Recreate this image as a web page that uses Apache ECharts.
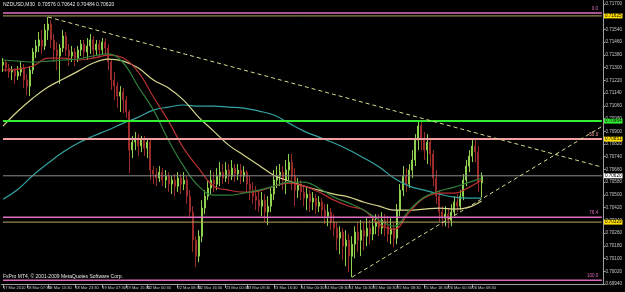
<!DOCTYPE html>
<html><head><meta charset="utf-8">
<script src="https://cdn.jsdelivr.net/npm/echarts@6/dist/echarts.min.js"></script>
<style>html,body{margin:0;padding:0;background:#000;}#c{width:625px;height:292px;}</style>
</head><body><div id="c"></div><script>
// NZDUSD M30 OHLC
const opens=[0.71316,0.71335,0.71297,0.71272,0.71285,0.71247,0.71272,0.71297,0.71222,0.71184,
0.71285,0.71398,0.71436,0.71474,0.71436,0.71536,0.71574,0.71474,0.71411,0.71373,
0.71423,0.71499,0.71411,0.71373,0.71398,0.71360,0.71411,0.71448,0.71398,0.71436,
0.71474,0.71411,0.71448,0.71411,0.71461,0.71423,0.71335,0.71222,0.71184,0.71121,
0.71147,0.71096,0.71021,0.70782,0.70832,0.70857,0.70807,0.70845,0.70794,0.70832,
0.70656,0.70631,0.70606,0.70643,0.70593,0.70618,0.70568,0.70593,0.70555,0.70606,
0.70568,0.70593,0.70492,0.70392,0.70215,0.70115,0.70240,0.70417,0.70492,0.70543,
0.70593,0.70568,0.70618,0.70643,0.70606,0.70656,0.70618,0.70668,0.70631,0.70656,
0.70618,0.70643,0.70568,0.70530,0.70492,0.70467,0.70429,0.70467,0.70392,0.70429,
0.70505,0.70593,0.70618,0.70643,0.70593,0.70656,0.70706,0.70618,0.70530,0.70568,
0.70518,0.70480,0.70505,0.70455,0.70480,0.70429,0.70455,0.70404,0.70366,0.70392,
0.70329,0.70291,0.70228,0.70266,0.70178,0.70215,0.70115,0.70190,0.70266,0.70215,
0.70278,0.70240,0.70291,0.70253,0.70303,0.70329,0.70291,0.70341,0.70303,0.70253,
0.70291,0.70228,0.70404,0.70530,0.70618,0.70568,0.70656,0.70719,0.70845,0.70933,
0.70845,0.70782,0.70832,0.70757,0.70606,0.70492,0.70392,0.70354,0.70379,0.70341,
0.70392,0.70455,0.70429,0.70492,0.70593,0.70681,0.70744,0.70807,0.70769,0.70576];
const closes=[0.71335,0.71297,0.71272,0.71285,0.71247,0.71272,0.71297,0.71222,0.71184,0.71285,
0.71398,0.71436,0.71474,0.71436,0.71536,0.71574,0.71474,0.71411,0.71373,0.71423,
0.71499,0.71411,0.71373,0.71398,0.71360,0.71411,0.71448,0.71398,0.71436,0.71474,
0.71411,0.71448,0.71411,0.71461,0.71423,0.71335,0.71222,0.71184,0.71121,0.71147,
0.71096,0.71021,0.70782,0.70832,0.70857,0.70807,0.70845,0.70794,0.70832,0.70656,
0.70631,0.70606,0.70643,0.70593,0.70618,0.70568,0.70593,0.70555,0.70606,0.70568,
0.70593,0.70492,0.70392,0.70215,0.70115,0.70240,0.70417,0.70492,0.70543,0.70593,
0.70568,0.70618,0.70643,0.70606,0.70656,0.70618,0.70668,0.70631,0.70656,0.70618,
0.70643,0.70568,0.70530,0.70492,0.70467,0.70429,0.70467,0.70392,0.70429,0.70505,
0.70593,0.70618,0.70643,0.70593,0.70656,0.70706,0.70618,0.70530,0.70568,0.70518,
0.70480,0.70505,0.70455,0.70480,0.70429,0.70455,0.70404,0.70366,0.70392,0.70329,
0.70291,0.70228,0.70266,0.70178,0.70215,0.70115,0.70190,0.70266,0.70215,0.70278,
0.70240,0.70291,0.70253,0.70303,0.70329,0.70291,0.70341,0.70303,0.70253,0.70291,
0.70228,0.70404,0.70530,0.70618,0.70568,0.70656,0.70719,0.70845,0.70933,0.70845,
0.70782,0.70832,0.70757,0.70606,0.70492,0.70392,0.70354,0.70379,0.70341,0.70392,
0.70455,0.70429,0.70492,0.70593,0.70681,0.70744,0.70807,0.70769,0.70576,0.70620];
const highs=[0.71360,0.71348,0.71323,0.71310,0.71297,0.71310,0.71335,0.71323,0.71260,0.71310,
0.71423,0.71474,0.71524,0.71536,0.71574,0.71618,0.71599,0.71511,0.71461,0.71448,
0.71536,0.71524,0.71448,0.71436,0.71423,0.71436,0.71474,0.71474,0.71486,0.71511,
0.71499,0.71474,0.71474,0.71486,0.71486,0.71448,0.71348,0.71272,0.71209,0.71184,
0.71172,0.71121,0.71033,0.70870,0.70895,0.70882,0.70870,0.70870,0.70857,0.70845,
0.70681,0.70668,0.70681,0.70668,0.70656,0.70643,0.70618,0.70631,0.70643,0.70631,
0.70643,0.70618,0.70530,0.70429,0.70240,0.70278,0.70467,0.70530,0.70593,0.70656,
0.70643,0.70668,0.70706,0.70694,0.70706,0.70694,0.70719,0.70694,0.70694,0.70694,
0.70681,0.70656,0.70618,0.70581,0.70555,0.70530,0.70518,0.70505,0.70492,0.70543,
0.70656,0.70681,0.70694,0.70681,0.70719,0.70757,0.70757,0.70668,0.70606,0.70593,
0.70555,0.70543,0.70530,0.70518,0.70505,0.70492,0.70480,0.70442,0.70442,0.70417,
0.70379,0.70329,0.70303,0.70291,0.70278,0.70253,0.70240,0.70303,0.70329,0.70341,
0.70329,0.70354,0.70341,0.70366,0.70379,0.70379,0.70392,0.70379,0.70366,0.70354,
0.70329,0.70442,0.70568,0.70681,0.70668,0.70694,0.70782,0.70882,0.70971,0.70958,
0.70895,0.70882,0.70857,0.70782,0.70656,0.70530,0.70429,0.70429,0.70417,0.70442,
0.70492,0.70505,0.70530,0.70631,0.70719,0.70782,0.70845,0.70845,0.70807,0.70642];
const lows=[0.71272,0.71272,0.71235,0.71222,0.71197,0.71222,0.71247,0.71172,0.71128,0.71121,
0.71260,0.71360,0.71398,0.71386,0.71411,0.71474,0.71423,0.71335,0.71285,0.71197,
0.71398,0.71373,0.71310,0.71335,0.71310,0.71335,0.71373,0.71360,0.71348,0.71386,
0.71360,0.71373,0.71360,0.71386,0.71373,0.71285,0.71159,0.71096,0.71046,0.71021,
0.71014,0.70983,0.70637,0.70731,0.70782,0.70744,0.70769,0.70744,0.70731,0.70593,
0.70568,0.70555,0.70581,0.70555,0.70543,0.70518,0.70505,0.70492,0.70518,0.70505,
0.70530,0.70442,0.70354,0.70140,0.70046,0.70077,0.70203,0.70379,0.70467,0.70505,
0.70518,0.70530,0.70555,0.70568,0.70581,0.70568,0.70593,0.70581,0.70593,0.70568,
0.70581,0.70518,0.70467,0.70442,0.70404,0.70392,0.70366,0.70329,0.70310,0.70392,
0.70467,0.70543,0.70555,0.70530,0.70505,0.70593,0.70530,0.70429,0.70480,0.70467,
0.70429,0.70404,0.70392,0.70404,0.70379,0.70392,0.70366,0.70316,0.70303,0.70278,
0.70240,0.70152,0.70127,0.70090,0.70052,0.70014,0.69983,0.70102,0.70140,0.70115,
0.70152,0.70178,0.70190,0.70215,0.70253,0.70240,0.70253,0.70240,0.70203,0.70190,
0.70171,0.70190,0.70366,0.70492,0.70518,0.70543,0.70606,0.70681,0.70782,0.70782,
0.70719,0.70694,0.70681,0.70555,0.70442,0.70329,0.70303,0.70303,0.70291,0.70303,
0.70366,0.70392,0.70404,0.70467,0.70555,0.70643,0.70706,0.70706,0.70518,0.70484];

// moving averages, sampled at bar indices
const maIdx=[0,5,10,15,20,25,30,35,40,45,50,55,60,65,70,75,80,85,90,95,100,105,110,115,120,125,130,135,140,145,150,155,159];
const maTeal=[0.70473,0.70536,0.70624,0.70700,0.70769,0.70826,0.70870,0.70908,0.70951,0.70989,0.71033,0.71052,0.71065,0.71058,0.71058,0.71052,0.71046,0.71027,0.71002,0.70951,0.70901,0.70863,0.70826,0.70782,0.70731,0.70675,0.70605,0.70555,0.70530,0.70505,0.70486,0.70480,0.70480];
const maKhaki=[0.70932,0.71027,0.71109,0.71178,0.71228,0.71278,0.71329,0.71354,0.71341,0.71297,0.71222,0.71172,0.71096,0.70989,0.70901,0.70813,0.70750,0.70687,0.70624,0.70587,0.70555,0.70530,0.70505,0.70486,0.70454,0.70429,0.70404,0.70404,0.70411,0.70417,0.70411,0.70423,0.70461];
const maRed=[0.71285,0.71291,0.71310,0.71360,0.71360,0.71348,0.71360,0.71379,0.71360,0.71272,0.71115,0.70964,0.70794,0.70668,0.70555,0.70530,0.70518,0.70524,0.70555,0.70574,0.70555,0.70518,0.70467,0.70429,0.70404,0.70316,0.70285,0.70392,0.70480,0.70511,0.70511,0.70549,0.70593];
const maGreen=[0.71348,0.71341,0.71335,0.71341,0.71348,0.71354,0.71373,0.71386,0.71329,0.71178,0.71033,0.70844,0.70681,0.70555,0.70498,0.70498,0.70511,0.70530,0.70555,0.70580,0.70580,0.70542,0.70486,0.70448,0.70404,0.70341,0.70303,0.70404,0.70486,0.70524,0.70549,0.70580,0.70605];

// time axis labels and the bars they sit on
const tickIdx=[0,8,15,24,33,41,48,58,65,74,81,90,99,107,115,123,131,140,148,156];
const tickLabels=["17 Mar 2010","18 Mar 07:30","18 Mar 15:30","18 Mar 23:30","19 Mar 07:30","19 Mar 15:30","22 Mar 00:30","22 Mar 08:30","22 Mar 16:30","23 Mar 00:30","23 Mar 08:30","23 Mar 16:30","24 Mar 00:30","24 Mar 08:30","24 Mar 16:30","25 Mar 00:30","25 Mar 08:30","25 Mar 16:30","26 Mar 00:30","26 Mar 08:30"];
const totalSlots=200;

// price scale labels
const priceTicks=[0.71700,0.71620,0.71540,0.71460,0.71380,0.71300,0.71220,0.71140,0.71060,0.70980,0.70900,0.70820,0.70740,0.70660,0.70580,0.70500,0.70420,0.70340,0.70260,0.70180,0.70100,0.70020,0.69940];
const priceMin=0.69940, priceMax=0.71725;

// horizontal levels
const fibLevels=[0.71643,0.70851,0.70360,0.69964];
const fibNames=["0.0","50.0","76.4","100.0"];
const goldLevels=[0.71625,0.70329];
const greenLevel=0.70964;
const bidLevel=0.70620;
// trend lines: [barIndex, price]
const trendDown=[[15,0.71618],[199,0.70675]];
const trendUp=[[116,0.69983],[199,0.70930]];

const headerText="NZDUSD,M30  0.70576 0.70642 0.70484 0.70620";
const footerText="FxPro MT4, \u00a9 2001-2009 MetaQuotes Software Corp.";

const cats=[];for(let i=0;i<totalSlots;i++)cats.push('b'+i);
const tickMap={};tickIdx.forEach((t,k)=>tickMap[t]=tickLabels[k]);
const ohlc=opens.map((o,i)=>[o,closes[i],lows[i],highs[i]]);
const ma=(arr)=>maIdx.map((ix,k)=>[ix,arr[k]]);
const F='Liberation Sans';
const fs=4.6;
const last=totalSlots-1;

function hline(v,color,width,tag){
  const s={type:'line',data:[[0,v],[last,v]],symbol:'none',showSymbol:false,silent:true,z:4,
    lineStyle:{color:color,width:width}};
  if(tag){s.endLabel={show:true,distance:2,formatter:v.toFixed(5),backgroundColor:tag,color:'#000',fontSize:fs,fontFamily:F,padding:[0,1,0,1]};}
  return s;
}
function fibName(v,color,name){
  return {type:'line',data:[[last-6,v],[last,v]],symbol:'none',showSymbol:false,silent:true,z:5,
    lineStyle:{color:color,width:0,opacity:0},
    endLabel:{show:true,distance:0,offset:[-3-name.length*2.4,-4],formatter:name,color:color,fontSize:fs,fontFamily:F}};
}
function tline(t){
  return {type:'line',data:t,symbol:'none',showSymbol:false,silent:true,z:4,lineStyle:{color:'#d8d890',width:1,type:[4,3]}};
}

const series=[
  {type:'candlestick',data:ohlc,barWidth:1.5,z:2,
    itemStyle:{color:'#8fd14f',color0:'#9b2a2a',borderColor:'#8fd14f',borderColor0:'#9b2a2a',borderWidth:1}},
  {type:'line',data:ma(maTeal),smooth:0.4,showSymbol:false,z:3,lineStyle:{color:'#35a3a3',width:1.2}},
  {type:'line',data:ma(maKhaki),smooth:0.4,showSymbol:false,z:3,lineStyle:{color:'#d6d68c',width:1.2}},
  {type:'line',data:ma(maRed),smooth:0.4,showSymbol:false,z:3,lineStyle:{color:'#b83232',width:1.2}},
  {type:'line',data:ma(maGreen),smooth:0.4,showSymbol:false,z:3,lineStyle:{color:'#2f7f3a',width:1.2}},
  hline(fibLevels[0],'#e070c0',1.5),
  hline(goldLevels[0],'#b8a860',1,'#ffe000'),
  hline(greenLevel,'#33ee33',2,'#33ee33'),
  hline(fibLevels[1],'#f4a0a0',2,'#ffe000'),
  hline(bidLevel,'#8c8c8c',1,'#ffffff'),
  hline(fibLevels[2],'#e070c0',1.5),
  hline(goldLevels[1],'#b8a860',1,'#ffe000'),
  hline(fibLevels[3],'#d868b8',1.5),
  fibName(fibLevels[0],'#e070c0',fibNames[0]),
  fibName(fibLevels[1],'#f4a0a0',fibNames[1]),
  fibName(fibLevels[2],'#e070c0',fibNames[2]),
  fibName(fibLevels[3],'#d868b8',fibNames[3]),
  tline(trendDown),
  tline(trendUp)
];

const chart=echarts.init(document.getElementById('c'),null,{renderer:'canvas'});
chart.setOption({
  backgroundColor:'#000',
  animation:false,
  grid:{left:0,right:17,top:0,bottom:8,containLabel:false},
  xAxis:{type:'category',data:cats,boundaryGap:true,
    axisLine:{show:true,lineStyle:{color:'#a0a0a0',width:1}},
    axisTick:{show:true,alignWithLabel:true,interval:(i)=>tickMap[i]!==undefined,length:4,lineStyle:{color:'#a0a0a0'}},
    axisLabel:{show:true,hideOverlap:false,showMinLabel:true,interval:(i)=>tickMap[i]!==undefined,formatter:(v,i)=>tickMap[i]||'',align:'left',margin:2,color:'#c8c8c8',fontSize:4,fontFamily:F},
    splitLine:{show:false}},
  yAxis:{type:'value',position:'right',min:priceMin,max:priceMax,
    axisLine:{show:true,lineStyle:{color:'#a0a0a0',width:1}},
    axisTick:{show:true,customValues:priceTicks,length:2,lineStyle:{color:'#a0a0a0'}},
    axisLabel:{show:true,customValues:priceTicks,formatter:(v)=>v.toFixed(5),margin:2,color:'#c8c8c8',fontSize:fs,fontFamily:F},
    splitLine:{show:false}},
  series:series,
  graphic:[
    {type:'text',left:3,top:2,z:10,style:{text:headerText,fill:'#e8e8e8',font:'5px "Liberation Sans"'}},
    {type:'text',left:3,top:274,z:10,style:{text:footerText,fill:'#e8e8e8',font:'5px "Liberation Sans"'}}
  ]
});
</script></body></html>
